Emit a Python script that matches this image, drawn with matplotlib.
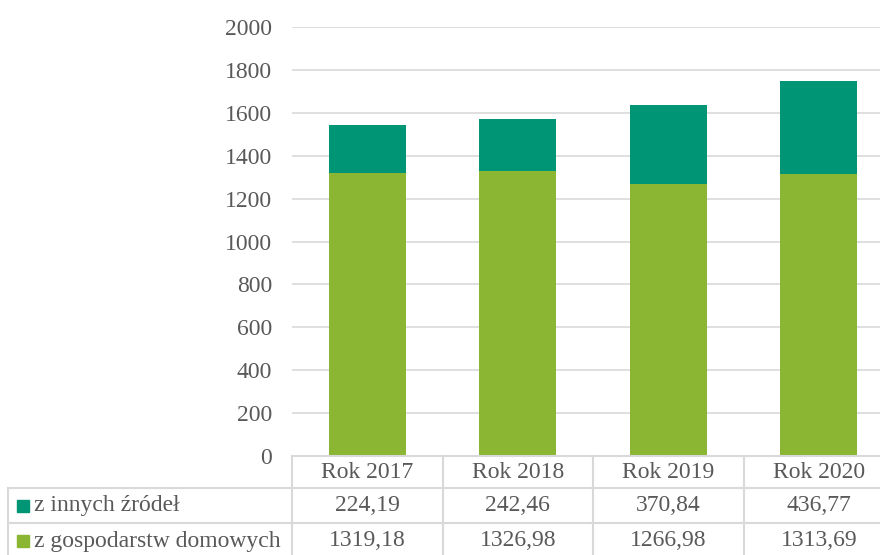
import numpy as np
import matplotlib.pyplot as plt
from matplotlib.lines import Line2D
from matplotlib.patches import Rectangle

plt.rcParams['font.family'] = ['Liberation Serif', 'DejaVu Serif']

years = ['Rok 2017', 'Rok 2018', 'Rok 2019', 'Rok 2020']
households = [1319.18, 1326.98, 1266.98, 1313.69]
other = [224.19, 242.46, 370.84, 436.77]
households_lbl = ['1319,18', '1326,98', '1266,98', '1313,69']
other_lbl = ['224,19', '242,46', '370,84', '436,77']

c_house = '#8BB634'
c_other = '#009574'
txt = '#595959'
grid = '#D9D9D9'
fs = 17

W, H = 880, 555
fig = plt.figure(figsize=(W / 100, H / 100), dpi=100)

def fx(px):
    return px / W

def fy(py):
    return 1 - py / H

# plot area runs a bit past the right edge of the image
x0, x1 = 292, 894
y_top, y_zero = 27, 456
ax = fig.add_axes([fx(x0), fy(y_zero), fx(x1 - x0), (y_zero - y_top) / H])

x = np.arange(len(years))
ax.bar(x, households, width=0.51, color=c_house, zorder=3)
ax.bar(x, other, width=0.51, bottom=households, color=c_other, zorder=3)
ax.set_xlim(-0.5, len(years) - 0.5)
ax.set_ylim(0, 2000)
ax.set_yticks(range(0, 2001, 200))
ax.yaxis.grid(True, color=grid, linewidth=1.2, zorder=0)
ax.tick_params(axis='y', length=0, labelsize=fs, labelcolor=txt, pad=14.4)
ax.set_xticks([])
for s in ax.spines.values():
    s.set_visible(False)

# data table below the plot
col_w = (x1 - x0) / len(years)
rows = [y_zero, 488, 523, 559]

def hline(y, xa, xb):
    fig.add_artist(Line2D([fx(xa), fx(xb)], [fy(y), fy(y)], color=grid, lw=1.5))

def vline(xp, ya, yb):
    fig.add_artist(Line2D([fx(xp), fx(xp)], [fy(ya), fy(yb)], color=grid, lw=1.5))

hline(rows[0], x0, x1)
hline(rows[1], 8, x1)
hline(rows[2], 8, x1)
vline(8, rows[1], H)
for i in range(len(years)):
    vline(x0 + i * col_w, rows[0], H)

for i, y in enumerate(years):
    cx = x0 + (i + 0.5) * col_w
    fig.text(fx(cx), fy((rows[0] + rows[1]) / 2), y, ha='center', va='center',
             fontsize=fs, color=txt)
    fig.text(fx(cx), fy((rows[1] + rows[2]) / 2), other_lbl[i], ha='center',
             va='center', fontsize=fs, color=txt)
    fig.text(fx(cx), fy((rows[2] + rows[3]) / 2), households_lbl[i], ha='center',
             va='center', fontsize=fs, color=txt)

# legend keys in the row headers
for (ya, yb), col, name in [((rows[1], rows[2]), c_other, 'z innych źródeł'),
                            ((rows[2], rows[3]), c_house, 'z gospodarstw domowych')]:
    cy = (ya + yb) / 2
    fig.add_artist(Rectangle((fx(17), fy(cy + 6)), fx(12), 12 / H, color=col))
    fig.text(fx(34), fy(cy), name, ha='left', va='center', fontsize=fs, color=txt)

fig.savefig('out.png', dpi=100)
